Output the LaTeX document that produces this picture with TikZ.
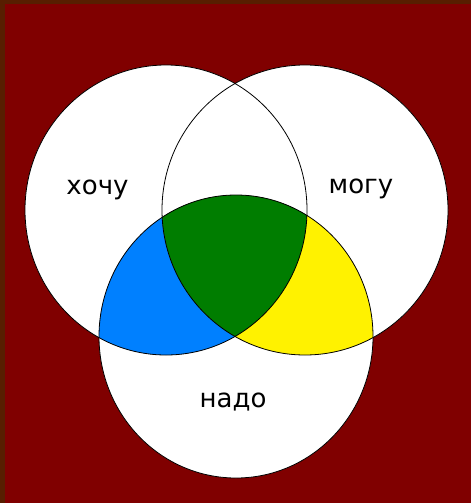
\documentclass[tikz,border=0pt]{standalone}
\usepackage{fontspec}
\setmainfont{DejaVu Sans}
\definecolor{maroon}{RGB}{128,0,0}
\definecolor{edgebrown}{RGB}{88,30,0}
\definecolor{skyblue}{RGB}{0,128,255}
\definecolor{leafgreen}{RGB}{0,125,0}
\begin{document}
\begin{tikzpicture}[x=1pt, y=-1pt,
    outline/.style={draw=black, line width=0.8pt},
    word/.style={anchor=base, font=\fontsize{26}{31}\selectfont}]
\fill[edgebrown] (0,0) rectangle (471,503);
\fill[maroon] (5,4) rectangle (471,503);
% the three sets
\def\want{(166,210) ellipse [x radius=141pt, y radius=145pt]}
\def\can{(305,210) ellipse [x radius=143pt, y radius=145pt]}
\def\must{(236,336.5) ellipse [x radius=137pt, y radius=141.5pt]}
\fill[white] \want;
\fill[white] \can;
\fill[white] \must;
\begin{scope}
  \clip \must;
  \fill[skyblue] \want;
  \fill[yellow] \can;
  \clip \want;
  \fill[leafgreen] \can;
\end{scope}
\draw[outline] \want;
\draw[outline] \can;
\draw[outline] \must;
\node[word] (want) at (97.5,194) {хочу};
\node[word] (can) at (361,193) {могу};
\node[word] (must) at (233,407) {надо};
\end{tikzpicture}
\end{document}
